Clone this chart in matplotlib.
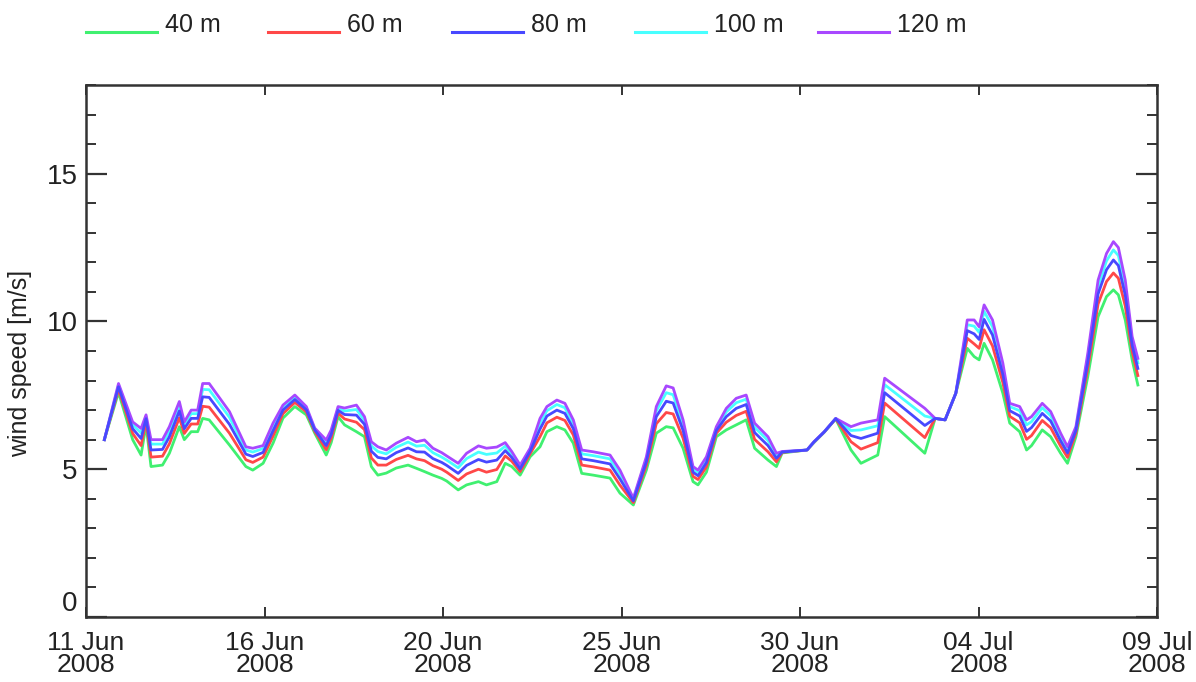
import matplotlib
matplotlib.use("Agg")
import matplotlib.pyplot as plt
from matplotlib.lines import Line2D
import numpy as np

plt.rcParams['font.family'] = ['Liberation Sans', 'DejaVu Sans']

# time in days since 11 Jun 2008 00:00
days = [0.48, 0.85, 1.22, 1.44, 1.57, 1.70, 2.00, 2.18, 2.44, 2.57, 2.75, 2.92, 3.05, 3.22,
        3.75, 4.18, 4.36, 4.63, 4.89, 5.15, 5.46, 5.76, 5.98, 6.28, 6.41, 6.59, 6.76, 7.07,
        7.28, 7.46, 7.63, 7.85, 8.11, 8.42, 8.64, 8.85, 9.07, 9.30, 9.43, 9.73, 9.95, 10.26,
        10.47, 10.74, 10.96, 11.13, 11.35, 11.61, 11.87, 12.05, 12.31, 12.52, 12.74, 12.96,
        13.26, 13.70, 13.96, 14.31, 14.65, 14.91, 15.17, 15.35, 15.61, 15.87, 16.00, 16.22,
        16.48, 16.74, 17.00, 17.26, 17.48, 17.83, 18.05, 18.20, 18.85, 19.03, 19.30, 19.60,
        20.00, 20.26, 20.70, 20.88, 21.93, 22.20, 22.46, 22.74, 23.04, 23.22, 23.35, 23.48,
        23.70, 23.97, 24.15, 24.41, 24.59, 24.72, 25.00, 25.22, 25.48, 25.66, 25.88, 26.19,
        26.46, 26.68, 26.86, 26.99, 27.17, 27.35, 27.50]

ws_40 = [6.00, 7.60, 6.00, 5.48, 6.50, 5.09, 5.14, 5.54, 6.44, 6.00, 6.27, 6.27, 6.72, 6.67,
         5.82, 5.09, 4.97, 5.20, 5.88, 6.73, 7.12, 6.84, 6.22, 5.48, 5.90, 6.78, 6.50, 6.27,
         6.10, 5.09, 4.80, 4.87, 5.04, 5.14, 5.03, 4.92, 4.80, 4.69, 4.60, 4.30, 4.47, 4.58,
         4.47, 4.58, 5.20, 5.09, 4.80, 5.42, 5.76, 6.27, 6.44, 6.33, 5.88, 4.86,
         4.80, 4.70, 4.19, 3.79, 4.97, 6.22, 6.44, 6.40, 5.71, 4.58, 4.47, 4.90,
         6.10, 6.33, 6.50, 6.67, 5.71, 5.31, 5.09, 5.55, 5.65, 5.90, 6.25, 6.70,
         5.65, 5.20, 5.48, 6.78, 5.54, 6.72, 6.67, 7.57, 9.09, 8.81, 8.70, 9.26,
         8.70, 7.57, 6.56, 6.27, 5.65, 5.80, 6.33, 6.10, 5.54, 5.20, 6.10, 8.13,
         10.16, 10.84, 11.07, 10.90, 10.05, 8.70, 7.85]

ws_60 = [6.00, 7.71, 6.21, 5.80, 6.62, 5.41, 5.44, 5.86, 6.74, 6.21, 6.53, 6.53, 7.13, 7.10,
         6.22, 5.32, 5.23, 5.41, 6.12, 6.88, 7.26, 6.94, 6.28, 5.66, 6.05, 6.90, 6.70, 6.59,
         6.34, 5.38, 5.14, 5.14, 5.33, 5.47, 5.35, 5.29, 5.12, 5.00, 4.90, 4.62, 4.84, 5.00,
         4.90, 4.99, 5.45, 5.27, 4.92, 5.52, 6.10, 6.57, 6.76, 6.65, 6.16, 5.14,
         5.08, 4.97, 4.46, 3.87, 5.13, 6.54, 6.92, 6.87, 6.05, 4.76, 4.65, 5.08,
         6.22, 6.59, 6.82, 6.96, 6.01, 5.59, 5.25, 5.57, 5.65, 5.91, 6.26, 6.71,
         5.93, 5.68, 5.90, 7.24, 6.07, 6.72, 6.67, 7.57, 9.43, 9.24, 9.09, 9.72,
         9.17, 7.93, 6.79, 6.57, 6.01, 6.14, 6.65, 6.40, 5.78, 5.40, 6.22, 8.41,
         10.59, 11.35, 11.64, 11.46, 10.52, 8.98, 8.17]

ws_80 = [6.00, 7.79, 6.37, 6.04, 6.71, 5.65, 5.67, 6.10, 6.97, 6.37, 6.72, 6.72, 7.45, 7.43,
         6.52, 5.51, 5.43, 5.57, 6.30, 7.00, 7.36, 7.01, 6.33, 5.80, 6.17, 6.99, 6.85, 6.83,
         6.52, 5.61, 5.40, 5.35, 5.56, 5.72, 5.59, 5.58, 5.36, 5.23, 5.13, 4.86, 5.13, 5.33,
         5.24, 5.31, 5.63, 5.40, 5.01, 5.60, 6.36, 6.80, 7.00, 6.89, 6.37, 5.35,
         5.29, 5.18, 4.67, 3.93, 5.25, 6.78, 7.30, 7.24, 6.31, 4.90, 4.78, 5.22,
         6.31, 6.78, 7.06, 7.19, 6.24, 5.80, 5.37, 5.58, 5.65, 5.92, 6.26, 6.71,
         6.14, 6.04, 6.22, 7.59, 6.48, 6.72, 6.67, 7.57, 9.69, 9.58, 9.39, 10.07,
         9.54, 8.20, 6.98, 6.80, 6.28, 6.41, 6.89, 6.63, 5.96, 5.55, 6.31, 8.62,
         10.93, 11.75, 12.08, 11.89, 10.89, 9.19, 8.41]

ws_100 = [6.00, 7.85, 6.50, 6.23, 6.78, 5.85, 5.85, 6.29, 7.15, 6.50, 6.88, 6.88, 7.70, 7.69,
          6.76, 5.65, 5.58, 5.70, 6.44, 7.10, 7.44, 7.07, 6.36, 5.90, 6.26, 7.06, 6.97, 7.02,
          6.66, 5.79, 5.60, 5.52, 5.74, 5.92, 5.78, 5.81, 5.56, 5.41, 5.31, 5.05, 5.36, 5.58,
          5.50, 5.55, 5.78, 5.51, 5.08, 5.66, 6.56, 6.98, 7.19, 7.08, 6.54, 5.52,
          5.46, 5.35, 4.84, 3.98, 5.34, 6.97, 7.59, 7.52, 6.51, 5.00, 4.89, 5.33,
          6.38, 6.94, 7.25, 7.37, 6.42, 5.97, 5.46, 5.59, 5.65, 5.92, 6.27, 6.72,
          6.31, 6.33, 6.47, 7.86, 6.80, 6.72, 6.67, 7.57, 9.89, 9.84, 9.63, 10.34,
          9.82, 8.42, 7.12, 6.98, 6.50, 6.61, 7.08, 6.81, 6.10, 5.66, 6.38, 8.79,
          11.19, 12.05, 12.42, 12.23, 11.17, 9.36, 8.60]

ws_120 = [6.00, 7.90, 6.60, 6.38, 6.84, 6.00, 6.00, 6.44, 7.29, 6.60, 7.00, 7.00, 7.90, 7.90,
          6.95, 5.76, 5.71, 5.80, 6.56, 7.17, 7.51, 7.12, 6.39, 5.99, 6.33, 7.12, 7.07, 7.17,
          6.78, 5.93, 5.76, 5.65, 5.88, 6.08, 5.93, 5.99, 5.71, 5.56, 5.45, 5.20, 5.54, 5.79,
          5.71, 5.75, 5.90, 5.60, 5.14, 5.71, 6.72, 7.12, 7.34, 7.23, 6.67, 5.65,
          5.59, 5.48, 4.97, 4.02, 5.42, 7.12, 7.82, 7.75, 6.67, 5.09, 4.97, 5.42,
          6.44, 7.06, 7.40, 7.51, 6.56, 6.10, 5.54, 5.60, 5.65, 5.93, 6.27, 6.72,
          6.44, 6.56, 6.67, 8.08, 7.06, 6.72, 6.67, 7.57, 10.05, 10.05, 9.82, 10.56,
          10.05, 8.59, 7.23, 7.12, 6.67, 6.78, 7.23, 6.95, 6.22, 5.76, 6.44, 8.92,
          11.40, 12.30, 12.70, 12.50, 11.40, 9.49, 8.75]

labels = ['40 m', '60 m', '80 m', '100 m', '120 m']
colors = ['#40f070', '#ff4848', '#4848ff', '#48ffff', '#a848ff']

tick_days = [0, 28/6, 56/6, 14, 112/6, 140/6, 28]
tick_labels = ['11 Jun\n2008', '16 Jun\n2008', '20 Jun\n2008', '25 Jun\n2008',
               '30 Jun\n2008', '04 Jul\n2008', '09 Jul\n2008']

W, H = 1196, 682
fig = plt.figure(figsize=(W/100, H/100), dpi=100)
ax = fig.add_axes([86/W, 1-617/H, (1157-86)/W, (617-85)/H])

series = [ws_40, ws_60, ws_80, ws_100, ws_120]
order = [0, 1, 3, 4, 2]
for i in order:
    ax.plot(days, series[i], color=colors[i], lw=2.0, solid_joinstyle='round')

ax.set_xlim(0, 28)
ax.set_ylim(0, 18)
ax.set_xticks(tick_days)
ax.set_xticklabels(tick_labels, linespacing=0.92)
ax.set_yticks([0, 5, 10, 15])
ax.set_yticks(np.arange(0, 19, 1), minor=True)
ax.tick_params(axis='y', which='major', direction='in', length=15, width=1.6,
               left=True, right=True, labelsize=20, pad=6, colors='#333333', labelcolor='#222222')
ax.tick_params(axis='y', which='minor', direction='in', length=7, width=1.4,
               left=True, right=True, colors='#333333')
ax.tick_params(axis='x', which='major', direction='in', length=7.5, width=1.4,
               top=True, bottom=True, labelsize=19, pad=10, colors='#333333', labelcolor='#222222')
ax.tick_params(axis='x', which='minor', bottom=False, top=False)
for s in ax.spines.values():
    s.set_color('#333333')
    s.set_linewidth(1.8)

# the "0" label sits just above the lower axis line, as in the reference
ylabs = ax.get_yticklabels()
ylabs[0].set_verticalalignment('bottom')

fig.text(20/W, 1-363/H, 'wind speed [m/s]', rotation=90, ha='center', va='center',
         fontsize=18, color='#222222')

# legend across the top
x0s = [86, 268, 452, 635, 818]
for i in range(5):
    x0 = x0s[i]
    fig.add_artist(Line2D([x0/W, (x0+71)/W], [1-32/H, 1-32/H], color=colors[i], lw=2.2,
                          transform=fig.transFigure))
    fig.text((x0+79)/W, 1-25/H, labels[i], ha='left', va='center', fontsize=18, color='#222222')

fig.savefig('out.png', dpi=100)
